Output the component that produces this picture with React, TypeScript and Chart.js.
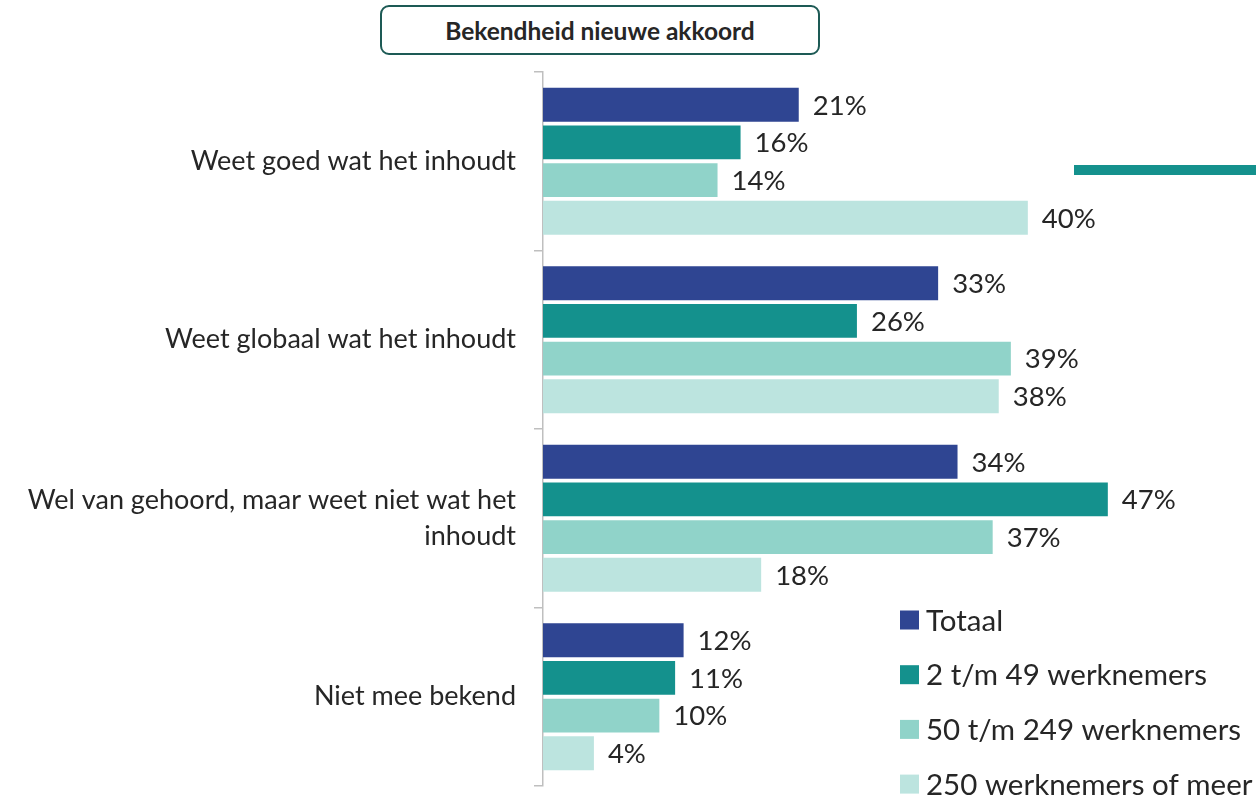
import React, { useEffect, useRef } from "react";
import { Chart, registerables } from "chart.js";

Chart.register(...registerables);

const categories: (string | string[])[] = [
  "Weet goed wat het inhoudt",
  "Weet globaal wat het inhoudt",
  ["Wel van gehoord, maar weet niet wat het", "inhoudt"],
  "Niet mee bekend",
];
const seriesNames = ["Totaal", "2 t/m 49 werknemers", "50 t/m 249 werknemers", "250 werknemers of meer"];
const totaal = [21.1, 32.6, 34.2, 11.6];
const klein = [16.3, 25.9, 46.6, 10.9];
const midden = [14.4, 38.6, 37.1, 9.6];
const groot = [40.0, 37.6, 18.0, 4.2];
const colors = ["#2F4592", "#14918D", "#90D3C9", "#BCE4DF"];

const FONT = "Lato, 'Open Sans', sans-serif";
const TEXT = "#262626";

const dataLabelPlugin = {
  id: "dataLabels",
  afterDatasetsDraw(chart: any) {
    const ctx = chart.ctx;
    ctx.save();
    ctx.font = `27.5px ${FONT}`;
    ctx.fillStyle = TEXT;
    ctx.textAlign = "left";
    ctx.textBaseline = "middle";
    chart.data.datasets.forEach((ds: any, i: number) => {
      const meta = chart.getDatasetMeta(i);
      meta.data.forEach((bar: any, j: number) => {
        ctx.fillText(Math.round(ds.data[j]) + "%", bar.x + 14, bar.y + 1);
      });
    });
    ctx.restore();
  },
};

const legendPlugin = {
  id: "customLegend",
  afterDraw(chart: any) {
    const ctx = chart.ctx;
    const area = chart.chartArea;
    ctx.save();
    ctx.font = `29.5px ${FONT}`;
    ctx.textBaseline = "middle";
    ctx.textAlign = "left";
    const x0 = area.left + 357;
    const y0 = area.bottom - 166;
    chart.data.datasets.forEach((ds: any, i: number) => {
      const cy = y0 + i * 54.7;
      ctx.fillStyle = ds.backgroundColor;
      ctx.fillRect(x0, cy - 9.5, 19, 19);
      ctx.fillStyle = TEXT;
      ctx.fillText(ds.label, x0 + 26, cy + 1);
    });
    ctx.restore();
  },
};

export default function App() {
  const ref = useRef<HTMLCanvasElement>(null);
  useEffect(() => {
    if (!ref.current) return;
    const chart = new Chart(ref.current, {
      type: "bar",
      data: {
        labels: categories,
        datasets: [totaal, klein, midden, groot].map((d, i) => ({
          label: seriesNames[i],
          data: d,
          backgroundColor: colors[i],
          borderWidth: 0,
          categoryPercentage: 0.845,
          barPercentage: 0.9,
        })),
      },
      options: {
        indexAxis: "y",
        animation: false,
        responsive: false,
        maintainAspectRatio: false,
        devicePixelRatio: 1,
        layout: { padding: { top: 72, bottom: 10, right: 10, left: 0 } },
        plugins: { legend: { display: false }, tooltip: { enabled: false }, title: { display: false } },
        scales: {
          x: { display: false, min: 0, max: 58 },
          y: {
            afterFit(scale: any) {
              scale.width = 543;
              scale.paddingTop = 0;
              scale.paddingBottom = 0;
            },
            border: { color: "#BFBFBF", width: 1.5 },
            grid: { offset: true, drawOnChartArea: false, drawTicks: true, tickLength: 9, color: "#BFBFBF", lineWidth: 1.5 },
            ticks: {
              padding: 18,
              color: TEXT,
              font: { family: FONT, size: 27, lineHeight: 1.3 },
            },
          },
        },
      },
      plugins: [dataLabelPlugin, legendPlugin],
    });
    return () => chart.destroy();
  }, []);

  return (
    <div style={{ position: "absolute", left: 0, top: 0, width: 1256, height: 796, background: "#fff", overflow: "hidden" }}>
      <div
        style={{
          position: "absolute",
          left: 380,
          top: 5,
          width: 440,
          height: 50,
          boxSizing: "border-box",
          border: "2.5px solid #1D5A55",
          borderRadius: 9,
          display: "flex",
          alignItems: "center",
          justifyContent: "center",
          fontFamily: FONT,
          fontWeight: 700,
          fontSize: 24.5,
          color: TEXT,
        }}
      >
        Bekendheid nieuwe akkoord
      </div>
      <div style={{ position: "absolute", left: 1074, top: 165, width: 182, height: 10, background: "#14918D" }} />
      <canvas ref={ref} width={1256} height={796} style={{ position: "absolute", left: 0, top: 0, width: 1256, height: 796 }} />
    </div>
  );
}
